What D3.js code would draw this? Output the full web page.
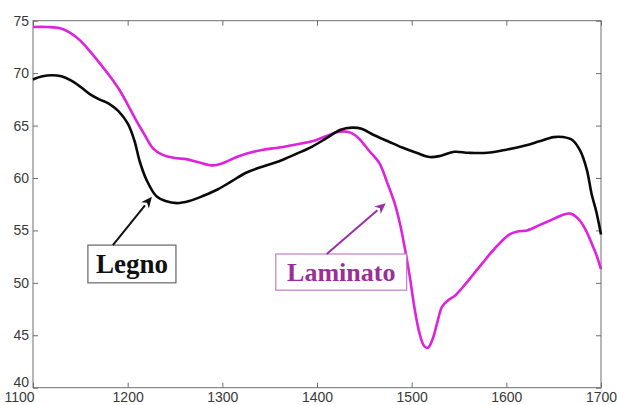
<!DOCTYPE html>
<html><head><meta charset="utf-8">
<script src="https://cdn.jsdelivr.net/npm/d3@7"></script>
<style>html,body{margin:0;padding:0;background:#fff;}svg{display:block;}</style>
</head><body>
<svg id="chart" width="617" height="405"></svg>
<script>
const xTicks = [1100, 1200, 1300, 1400, 1500, 1600, 1700];
const yTicks = [40, 45, 50, 55, 60, 65, 70, 75];

const legnoX = [1100,1110,1120,1130,1140,1150,1160,1170,1180,1190,1200,1207,1213,1220,1230,1240,1252,1265,1280,1295,1310,1325,1343,1360,1378,1395,1410,1425,1437,1447,1460,1475,1490,1505,1519,1530,1545,1560,1580,1600,1620,1635,1650,1660,1670,1678,1685,1690,1695,1700];
const legnoY = [69.4,69.7,69.8,69.7,69.3,68.7,68.0,67.5,67.1,66.4,65.2,63.6,61.5,59.8,58.3,57.8,57.6,57.8,58.3,58.9,59.7,60.5,61.1,61.6,62.3,63.0,63.8,64.6,64.8,64.7,64.1,63.5,62.9,62.4,62.0,62.1,62.5,62.4,62.4,62.7,63.1,63.5,63.9,63.9,63.6,62.6,60.8,58.5,56.8,54.6];

const laminatoX = [1100,1115,1128,1138,1150,1160,1170,1182,1192,1200,1209,1218,1227,1237,1250,1262,1275,1290,1300,1318,1343,1360,1378,1395,1410,1422,1432,1440,1447,1455,1466,1474,1482,1488,1493,1498,1503,1508,1513,1517,1522,1527,1532,1538,1546,1556,1565,1575,1588,1603,1612,1622,1635,1650,1660,1668,1676,1683,1690,1695,1700];
const laminatoY = [74.4,74.4,74.3,73.9,73.1,72.1,71.0,69.6,68.3,67.0,65.5,64.1,62.8,62.2,61.9,61.8,61.5,61.2,61.4,62.1,62.7,62.9,63.2,63.5,64.0,64.4,64.4,64.1,63.5,62.6,61.4,59.6,57.6,55.5,53.2,50.6,47.6,45.3,44.0,43.8,44.6,46.2,47.7,48.3,48.8,49.8,50.8,51.9,53.3,54.6,54.9,55.0,55.5,56.1,56.5,56.6,56.1,55.2,53.8,52.7,51.3];

const labels = ["Legno", "Laminato"];
// annotation anchors in data coordinates: box corners, arrow start, arrow tip
const boxX0 = [1158, 1356.5], boxX1 = [1251, 1494.7];
const boxY0 = [53.6, 52.75], boxY1 = [50.0, 49.3];
const arrowFromX = [1184.4, 1410.3], arrowFromY = [53.6, 52.75];
const arrowToX = [1225.6, 1472.6], arrowToY = [58.2, 57.6];

(function () {
const svg = d3.select("#chart");
const m = {left: 33, right: 16, top: 20.7, bottom: 17.3};
const W = 617, H = 405;
const x = d3.scaleLinear().domain([1100, 1700]).range([m.left, W - m.right]);
const y = d3.scaleLinear().domain([40, 75]).range([H - m.bottom, m.top]);

const axisColor = "#6e6e6e";
const tickLen = 5;
const g = svg.append("g");

// frame box
g.append("rect").attr("x", x(1100)).attr("y", y(75))
  .attr("width", x(1700) - x(1100)).attr("height", y(40) - y(75))
  .attr("fill", "none").attr("stroke", axisColor).attr("stroke-width", 1);

// axes with inward ticks
const axB = g.append("g").attr("transform", `translate(0,${y(40)})`)
  .call(d3.axisBottom(x).tickValues(xTicks).tickSizeInner(-tickLen).tickSizeOuter(0).tickPadding(6).tickFormat(d3.format("d")));
const axT = g.append("g").attr("transform", `translate(0,${y(75)})`)
  .call(d3.axisTop(x).tickValues(xTicks).tickSizeInner(-tickLen).tickSizeOuter(0).tickFormat(""));
const axL = g.append("g").attr("transform", `translate(${x(1100)},0)`)
  .call(d3.axisLeft(y).tickValues(yTicks).tickSizeInner(-tickLen).tickSizeOuter(0).tickPadding(5).tickFormat(d3.format("d")));
const axR = g.append("g").attr("transform", `translate(${x(1700)},0)`)
  .call(d3.axisRight(y).tickValues(yTicks).tickSizeInner(-tickLen).tickSizeOuter(0).tickFormat(""));
[axB, axT, axL, axR].forEach(a => {
  a.select(".domain").remove();
  a.selectAll(".tick line").attr("stroke", axisColor);
  a.selectAll("text").attr("fill", "#3a3a3a").style("font-family", "Liberation Sans, Arial, sans-serif").style("font-size", "14px");
});
axB.selectAll(".tick text").attr("y", 4).attr("dy", "0.71em")
  .attr("text-anchor", d => d === 1100 ? "end" : "middle")
  .attr("dx", d => d === 1100 ? "1" : "0");
axL.selectAll(".tick text").attr("x", -(x(1100) - 29)).attr("dy", d => d === 40 ? "-0.12em" : "0.32em");

// curves
const line = d3.line().curve(d3.curveCatmullRom.alpha(0.5)).x(d => x(d[0])).y(d => y(d[1]));
g.append("path").datum(laminatoX.map((v, i) => [v, laminatoY[i]]))
  .attr("d", line).attr("fill", "none").attr("stroke", "#de22de").attr("stroke-width", 2.6).attr("stroke-linejoin", "round");
g.append("path").datum(legnoX.map((v, i) => [v, legnoY[i]]))
  .attr("d", line).attr("fill", "none").attr("stroke", "#0a0a0a").attr("stroke-width", 2.6).attr("stroke-linejoin", "round");

// annotations
const textColor = ["#111111", "#9a2f9a"];
const boxColor = ["#666666", "#c07fc0"];
const arrowColor = ["#111111", "#9a2fa6"];
const fontSize = [27, 26];
labels.forEach((lab, i) => {
  const bx0 = x(boxX0[i]), bx1 = x(boxX1[i]), by0 = y(boxY0[i]), by1 = y(boxY1[i]);
  g.append("rect").attr("x", bx0).attr("y", by0).attr("width", bx1 - bx0).attr("height", by1 - by0)
    .attr("fill", "#fff").attr("stroke", boxColor[i]).attr("stroke-width", 1.2);
  g.append("text").attr("x", (bx0 + bx1) / 2).attr("y", by1 - 9.5)
    .attr("text-anchor", "middle").attr("fill", textColor[i])
    .style("font-family", "Liberation Serif, 'Times New Roman', serif").style("font-weight", "bold")
    .style("font-size", fontSize[i] + "px").text(lab);
  const x0 = x(arrowFromX[i]), y0 = y(arrowFromY[i]), x1 = x(arrowToX[i]), y1 = y(arrowToY[i]);
  const ang = Math.atan2(y1 - y0, x1 - x0);
  const hl = 11, hw = 5;
  const bxp = x1 - hl * Math.cos(ang), byp = y1 - hl * Math.sin(ang);
  g.append("line").attr("x1", x0).attr("y1", y0).attr("x2", bxp).attr("y2", byp)
    .attr("stroke", arrowColor[i]).attr("stroke-width", 2);
  const p = [[x1, y1],
    [bxp + hw * Math.sin(ang), byp - hw * Math.cos(ang)],
    [x1 - hl * 0.7 * Math.cos(ang), y1 - hl * 0.7 * Math.sin(ang)],
    [bxp - hw * Math.sin(ang), byp + hw * Math.cos(ang)]];
  g.append("path").attr("d", "M" + p.map(q => q.join(",")).join("L") + "Z").attr("fill", arrowColor[i]);
});
})();
</script>
</body></html>
